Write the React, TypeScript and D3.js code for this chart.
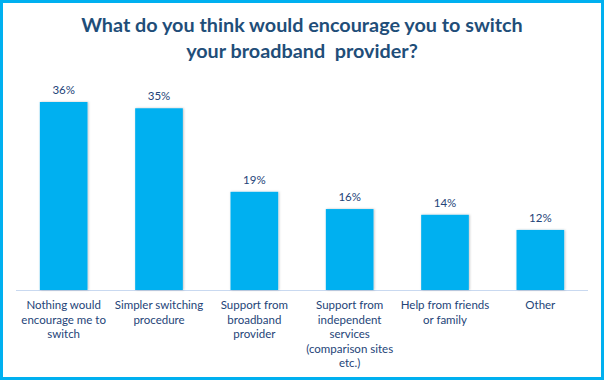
import React from "react";
import * as d3 from "d3";

const categories: string[][] = [
  ["Nothing would", "encourage me to", "switch"],
  ["Simpler switching", "procedure"],
  ["Support from", "broadband", "provider"],
  ["Support from", "independent", "services", "(comparison sites", "etc.)"],
  ["Help from friends", "or family"],
  ["Other"],
];
const values: number[] = [36, 34.8, 18.8, 15.5, 14.4, 11.5];
const titleLines: string[] = [
  "What do you think would encourage you to switch",
  "your broadband  provider?",
];

const W = 604;
const H = 381;
const baseY = 290;
const left = 16;
const right = 588;

export default function App() {
  const x = d3
    .scaleBand<number>()
    .domain(d3.range(values.length))
    .range([left, right])
    .paddingInner(0.5)
    .paddingOuter(0.25);
  const y = d3.scaleLinear().domain([0, 36]).range([baseY, 102]);
  const barColor = "#00B0F0";
  const textColor = "#244478";
  const font = "Lato, 'Open Sans', sans-serif";

  return (
    <svg
      width={W}
      height={H}
      style={{ position: "absolute", left: 0, top: 0, background: "#fff" }}
    >
      <defs>
        <filter id="sh" x="-20%" y="-20%" width="140%" height="140%">
          <feDropShadow dx="0.8" dy="0" stdDeviation="1" floodColor="#000" floodOpacity="0.25" />
        </filter>
      </defs>
      <rect x={0} y={0} width={W} height={H} fill="#fff" />
      <g fontFamily={font} fill="#1F4E79" fontWeight="bold" fontSize={19.8} textAnchor="middle">
        {titleLines.map((t, i) => (
          <text key={i} x={302} y={32 + i * 26} style={{ whiteSpace: "pre" }}>
            {t}
          </text>
        ))}
      </g>
      <line x1={left} x2={right} y1={baseY + 0.5} y2={baseY + 0.5} stroke="#C9D9F0" strokeWidth={1} />
      {values.map((v, i) => (
        <g key={i}>
          <rect
            x={x(i)!}
            y={y(v)}
            width={x.bandwidth()}
            height={baseY - y(v)}
            fill={barColor}
            filter="url(#sh)"
          />
          <text
            x={x(i)! + x.bandwidth() / 2}
            y={y(v) - 8}
            textAnchor="middle"
            fontFamily={font}
            fontSize={11.5}
            fill={textColor}
          >
            {Math.round(v) + "%"}
          </text>
          {categories[i].map((line, j) => (
            <text
              key={j}
              x={x(i)! + x.bandwidth() / 2}
              y={309 + j * 14.6}
              textAnchor="middle"
              fontFamily={font}
              fontSize={11.5}
              fill={textColor}
            >
              {line}
            </text>
          ))}
        </g>
      ))}
      <rect x={1.5} y={1.5} width={W - 3} height={H - 4} fill="none" stroke="#00B0F0" strokeWidth={3} />
    </svg>
  );
}
